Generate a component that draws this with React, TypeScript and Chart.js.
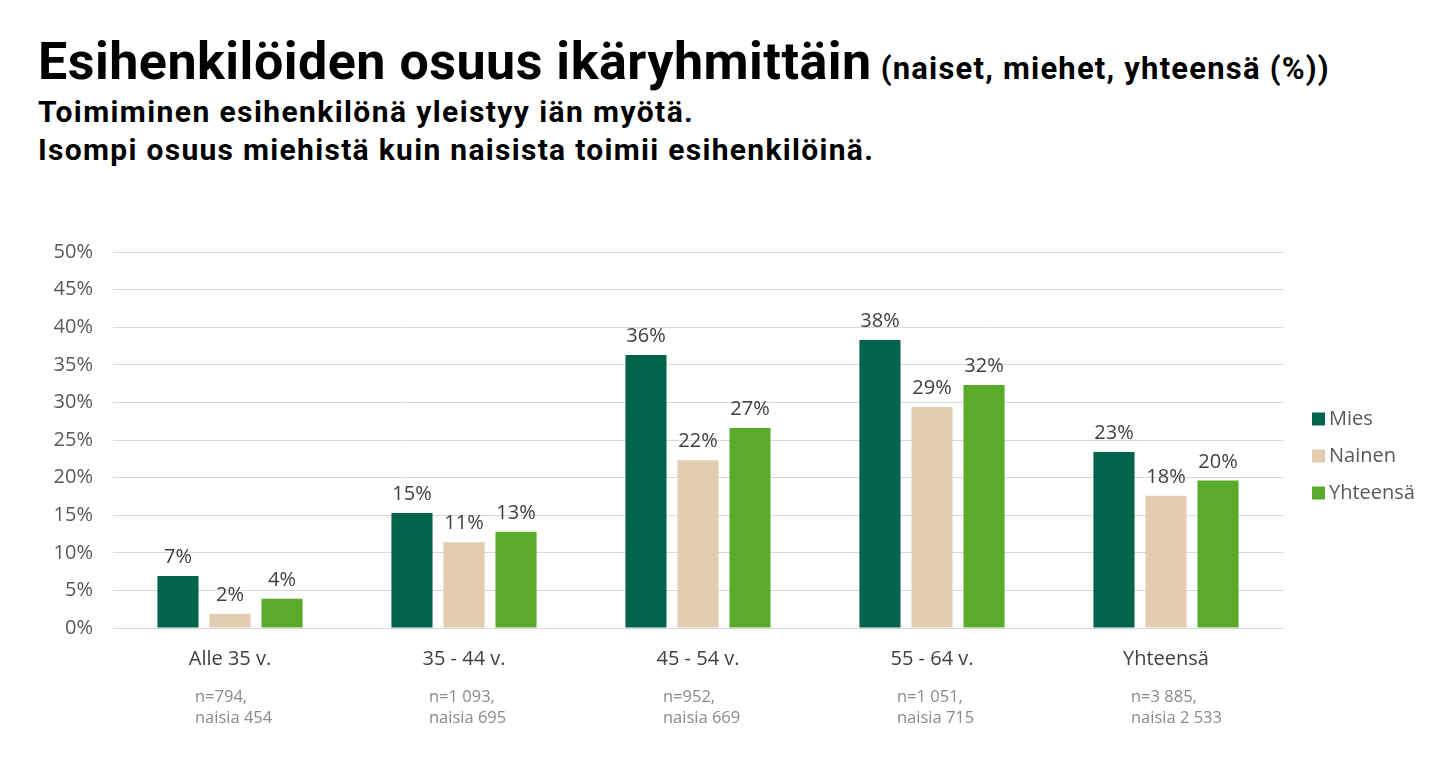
import React, { useEffect, useRef } from "react";
import { Chart, registerables } from "chart.js";

Chart.register(...registerables);

const categories = ["Alle 35 v.", "35 - 44 v.", "45 - 54 v.", "55 - 64 v.", "Yhteensä"];
const sampleLine1 = ["n=794,", "n=1 093,", "n=952,", "n=1 051,", "n=3 885,"];
const sampleLine2 = ["naisia 454", "naisia 695", "naisia 669", "naisia 715", "naisia 2 533"];
const seriesNames = ["Mies", "Nainen", "Yhteensä"];
const miesValues = [6.9, 15.3, 36.3, 38.3, 23.4];
const nainenValues = [1.9, 11.4, 22.3, 29.4, 17.6];
const yhteensaValues = [3.9, 12.8, 26.6, 32.3, 19.6];
const seriesColors = ["#02644a", "#e2cdb1", "#5aab2b"];
const yMin = 0;
const yMax = 50;
const yStep = 5;

const TEXT_FONT = "'Open Sans', 'Noto Sans', sans-serif";

const dataLabelPlugin = {
  id: "dataLabels",
  afterDatasetsDraw(chart: any) {
    const ctx = chart.ctx;
    ctx.save();
    ctx.font = `20px ${TEXT_FONT}`;
    ctx.fillStyle = "#404040";
    ctx.textAlign = "center";
    ctx.textBaseline = "alphabetic";
    chart.data.datasets.forEach((ds: any, di: number) => {
      const meta = chart.getDatasetMeta(di);
      meta.data.forEach((el: any, i: number) => {
        ctx.fillText(Math.round(ds.data[i]) + "%", el.x, el.y - 13);
      });
    });
    ctx.restore();
  },
};

const notesPlugin = {
  id: "sampleNotes",
  afterDraw(chart: any) {
    const ctx = chart.ctx;
    const xs = chart.scales.x;
    ctx.save();
    ctx.font = `16.5px ${TEXT_FONT}`;
    ctx.fillStyle = "#8a8a8a";
    ctx.textAlign = "left";
    ctx.textBaseline = "middle";
    categories.forEach((_, i) => {
      const cx = xs.getPixelForValue(i);
      ctx.fillText(sampleLine1[i], cx - 35, 697);
      ctx.fillText(sampleLine2[i], cx - 35, 718);
    });
    ctx.restore();
  },
};

const legendPlugin = {
  id: "customLegend",
  afterDraw(chart: any) {
    const ctx = chart.ctx;
    const area = chart.chartArea;
    ctx.save();
    ctx.font = `20px ${TEXT_FONT}`;
    ctx.textAlign = "left";
    ctx.textBaseline = "middle";
    const x0 = area.right + 29;
    const yStart = 419;
    const gap = 37;
    chart.data.datasets.forEach((ds: any, i: number) => {
      const y = yStart + i * gap;
      ctx.fillStyle = ds.backgroundColor;
      ctx.fillRect(x0, y - 6.5, 13, 13);
      ctx.fillStyle = "#595959";
      ctx.fillText(ds.label, x0 + 17, y);
    });
    ctx.restore();
  },
};

export default function App() {
  const canvasRef = useRef<HTMLCanvasElement | null>(null);

  useEffect(() => {
    if (!canvasRef.current) return;
    const chart = new Chart(canvasRef.current, {
      type: "bar",
      data: {
        labels: categories,
        datasets: [
          { label: seriesNames[0], data: miesValues, backgroundColor: seriesColors[0] },
          { label: seriesNames[1], data: nainenValues, backgroundColor: seriesColors[1] },
          { label: seriesNames[2], data: yhteensaValues, backgroundColor: seriesColors[2] },
        ],
      },
      options: {
        responsive: false,
        animation: false,
        layout: { padding: { left: 0, right: 157, top: 252, bottom: 0 } },
        datasets: { bar: { categoryPercentage: 0.667, barPercentage: 0.79 } },
        plugins: { legend: { display: false }, tooltip: { enabled: false } },
        scales: {
          x: {
            grid: { display: false },
            border: { display: false },
            ticks: { color: "#404040", font: { family: TEXT_FONT, size: 20 }, padding: 11 },
            afterFit(s: any) {
              s.height = 141;
            },
          },
          y: {
            min: yMin,
            max: yMax,
            grid: { color: "#d9d9d9", drawTicks: false, lineWidth: 1 },
            border: { display: false },
            ticks: {
              stepSize: yStep,
              color: "#595959",
              font: { family: TEXT_FONT, size: 20 },
              padding: 20,
              callback: (v: any) => v + "%",
            },
            afterFit(s: any) {
              s.width = 113;
            },
          },
        },
      },
      plugins: [dataLabelPlugin, notesPlugin, legendPlugin],
    });
    return () => chart.destroy();
  }, []);

  return (
    <div style={{ position: "absolute", left: 0, top: 0, width: 1440, height: 769, background: "#fff", overflow: "hidden" }}>
      <div
        style={{
          position: "absolute",
          left: 38,
          top: 36,
          whiteSpace: "nowrap",
          fontFamily: "Roboto, sans-serif",
          fontWeight: 700,
          color: "#000",
          lineHeight: 1,
        }}
      >
        <span style={{ fontSize: 52, letterSpacing: 0.5 }}>Esihenkilöiden osuus ikäryhmittäin</span>
        <span style={{ fontSize: 31, letterSpacing: 1.2 }}> (naiset, miehet, yhteensä (%))</span>
      </div>
      <div
        style={{
          position: "absolute",
          left: 38,
          top: 93,
          whiteSpace: "nowrap",
          fontFamily: "Roboto, sans-serif",
          fontWeight: 700,
          fontSize: 30,
          lineHeight: "38px",
          color: "#000",
        }}
      >
        <div style={{ letterSpacing: 1.4 }}>Toimiminen esihenkilönä yleistyy iän myötä.</div>
        <div style={{ letterSpacing: 1.3 }}>Isompi osuus miehistä kuin naisista toimii esihenkilöinä.</div>
      </div>
      <canvas ref={canvasRef} width={1440} height={769} style={{ position: "absolute", left: 0, top: 0, width: 1440, height: 769 }} />
    </div>
  );
}
